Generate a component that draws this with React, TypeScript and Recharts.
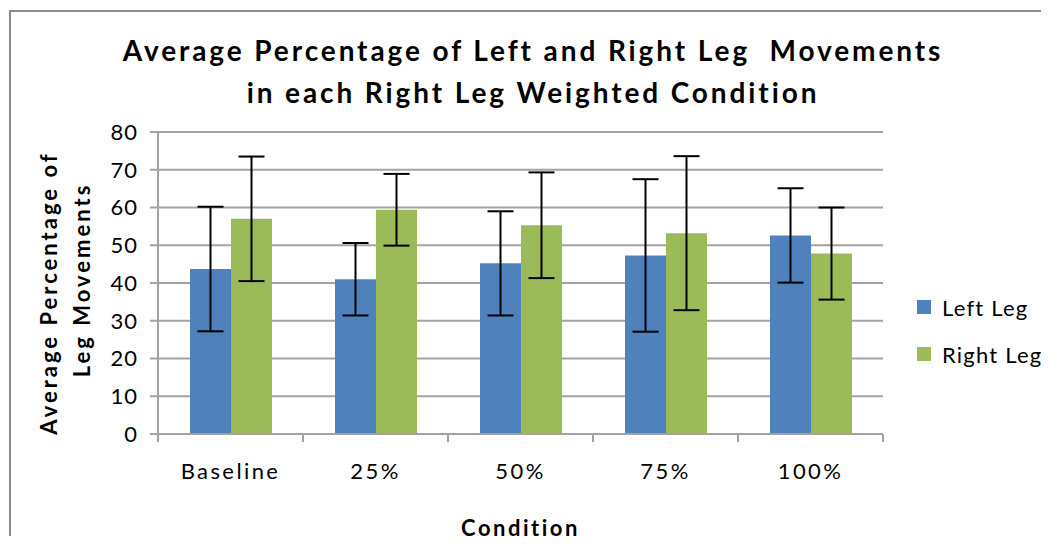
import React from 'react';
import { BarChart, Bar, XAxis, YAxis, CartesianGrid, ErrorBar, Legend } from 'recharts';

const categories = ['Baseline', '25%', '50%', '75%', '100%'];
const leftMeans = [43.7, 41.0, 45.2, 47.3, 52.6];
const leftErr = [16.5, 9.6, 13.8, 20.2, 12.5];
const rightMeans = [57.0, 59.4, 55.3, 53.2, 47.8];
const rightErr = [16.5, 9.5, 14.0, 20.4, 12.2];
const yTicks = [0, 10, 20, 30, 40, 50, 60, 70, 80];

const data = categories.map((c, i) => ({
  name: c,
  left: leftMeans[i],
  leftErr: leftErr[i],
  right: rightMeans[i],
  rightErr: rightErr[i],
}));

const FONT = 'Lato, "Open Sans", sans-serif';
const BLUE = '#4F81BD';
const GREEN = '#9BBB59';
const GRID = '#a3a3a3';
const X_TICK_MARGIN = 29;
const X_TICK_LEN = 8;

const YLabel = (props: any) => {
  const vb = props.viewBox || {};
  const cy = vb.y + vb.height / 2;
  return (
    <g fontFamily={FONT} fontWeight={700} fontSize={22} fill="#000" letterSpacing={3}>
      <text transform={`translate(57,${cy + 10}) rotate(-90)`} textAnchor="middle">Average Percentage of</text>
      <text transform={`translate(90,${cy - 3}) rotate(-90)`} textAnchor="middle">Leg Movements</text>
    </g>
  );
};

const CatTick = (props: any) => {
  const { x, y, payload, index } = props;
  const half = (payload && payload.offset) || 0;
  const axisY = y - X_TICK_MARGIN;
  const isLast = index === categories.length - 1;
  return (
    <g>
      <line x1={x - half} x2={x - half} y1={axisY} y2={axisY + X_TICK_LEN} stroke={GRID} strokeWidth={2} />
      {isLast && <line x1={x + half} x2={x + half} y1={axisY} y2={axisY + X_TICK_LEN} stroke={GRID} strokeWidth={2} />}
      <text x={x} y={y} dy="0.71em" textAnchor="middle" fontFamily={FONT} fontSize={22} fill="#000" letterSpacing={2.4}>
        {payload.value}
      </text>
    </g>
  );
};

const LegendContent = () => (
  <div style={{ fontFamily: FONT, fontSize: 22, color: '#000' }}>
    {[{ c: BLUE, t: 'Left Leg' }, { c: GREEN, t: 'Right Leg' }].map((it, i) => (
      <div key={i} style={{ display: 'flex', alignItems: 'center', height: 26, marginBottom: i === 0 ? 21 : 0, whiteSpace: 'nowrap' }}>
        <span style={{ display: 'inline-block', width: 14, height: 14, background: it.c, marginRight: 11, flex: 'none' }} />
        <span style={{ letterSpacing: 1.2 }}>{it.t}</span>
      </div>
    ))}
  </div>
);

export default function App() {
  return (
    <div style={{ margin: -8, width: 1049, height: 544, position: 'relative', background: '#fff', overflow: 'hidden' }}>
      <div style={{ position: 'absolute', left: 9, top: 10, width: 1200, height: 700, borderTop: '2px solid #8c8c8c', borderLeft: '2px solid #8c8c8c' }} />
      <div style={{ position: 'absolute', left: 0, top: 29, width: 1066, textAlign: 'center', fontFamily: FONT, fontWeight: 700, fontSize: 28, lineHeight: '42px', letterSpacing: 2.9, color: '#000' }}>
        <div>Average Percentage of Left and Right Leg&nbsp; Movements</div>
        <div>in each Right Leg Weighted Condition</div>
      </div>
      <div style={{ position: 'absolute', left: 0, top: 0 }}>
        <BarChart width={1049} height={544} data={data} margin={{ top: 132, right: 26, bottom: 0, left: 0 }} barGap={0} barSize={41}>
          <CartesianGrid vertical={false} stroke={GRID} strokeWidth={2} />
          <XAxis dataKey="name" stroke={GRID} strokeWidth={2} tickLine={false} height={110} tickMargin={X_TICK_MARGIN} tickSize={0} interval={0}
            tick={<CatTick />}
            label={{ value: 'Condition', position: 'insideBottom', offset: 8, fontFamily: FONT, fontWeight: 700, fontSize: 22, fill: '#000', letterSpacing: 2.5 }} />
          <YAxis width={158} domain={[0, 80]} ticks={yTicks} interval={0} tickSize={8} tickMargin={12} stroke={GRID} strokeWidth={2}
            tick={{ fontFamily: FONT, fontSize: 22, fill: '#000', letterSpacing: 1 }} label={<YLabel />} />
          <Legend layout="vertical" align="right" verticalAlign="middle" content={<LegendContent />}
            wrapperStyle={{ width: 140, left: 917, top: 294 }} />
          <Bar dataKey="left" fill={BLUE} isAnimationActive={false}>
            <ErrorBar dataKey="leftErr" width={13} strokeWidth={2} stroke="#000" />
          </Bar>
          <Bar dataKey="right" fill={GREEN} isAnimationActive={false}>
            <ErrorBar dataKey="rightErr" width={13} strokeWidth={2} stroke="#000" />
          </Bar>
        </BarChart>
      </div>
    </div>
  );
}
